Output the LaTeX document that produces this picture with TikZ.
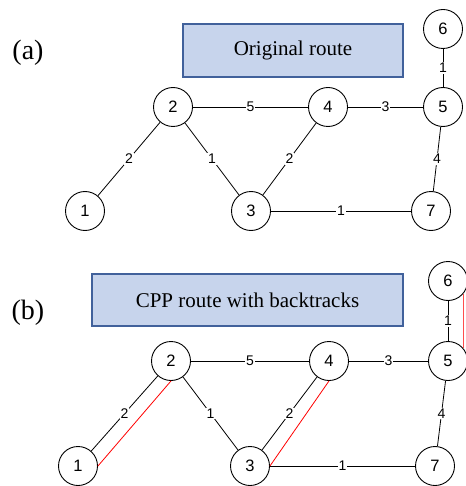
\documentclass[tikz,border=0pt]{standalone}
\usepackage{fontspec}
\setmainfont{Liberation Serif}
\newfontfamily\arialfont{Liberation Sans}

\definecolor{boxfill}{HTML}{C7D4EC}
\definecolor{boxedge}{HTML}{41619B}

\tikzset{
	vtx/.style={circle, draw, line width=0.9pt, minimum size=39pt, inner sep=0pt, font=\arialfont\fontsize{16.5}{16.5}\selectfont},
	wt/.style={fill=white, inner sep=1pt, font=\arialfont\fontsize{14}{14}\selectfont},
	titlebox/.style={draw=boxedge, fill=boxfill, line width=2pt, inner sep=0pt, font=\fontsize{21}{21}\selectfont},
	panel/.style={font=\fontsize{28}{28}\selectfont},
	backtrack/.style={red, line width=0.8pt}
}

\newcommand{\rtedge}[3]{
	\draw[line width=0.8pt] (#1) -- node[wt] {#3} (#2);
}
\newcommand{\rtedges}[1]{
	\rtedge{1#1}{2#1}{2}
	\rtedge{2#1}{3#1}{1}
	\rtedge{2#1}{4#1}{5}
	\rtedge{3#1}{4#1}{2}
	\rtedge{4#1}{5#1}{3}
	\rtedge{5#1}{6#1}{1}
	\rtedge{5#1}{7#1}{4}
	\rtedge{3#1}{7#1}{1}
}

\begin{document}
\begin{tikzpicture}[x=1pt, y=-1pt]
\useasboundingbox (0,0) rectangle (465,486);

% (a)
\pgfmathsetmacro{\rtAtop}{29}
\pgfmathsetmacro{\rtAmid}{107}
\pgfmathsetmacro{\rtAlow}{211}

\node[panel] (pa) at (28,53) {(a)};
\node[titlebox, minimum width=220pt, minimum height=53pt] (ta) at (293,50.5) {Original route};

\node[vtx] (6a) at (443,\rtAtop) {6};
\node[vtx] (2a) at (173,\rtAmid) {2};
\node[vtx] (4a) at (328,\rtAmid) {4};
\node[vtx] (5a) at (443,\rtAmid) {5};
\node[vtx] (1a) at (85,\rtAlow) {1};
\node[vtx] (3a) at (251,\rtAlow) {3};
\node[vtx] (7a) at (431,\rtAlow) {7};
\rtedges{a}

% (b)
\pgfmathsetmacro{\rtBtop}{281}
\pgfmathsetmacro{\rtBmid}{361}
\pgfmathsetmacro{\rtBlow}{466}

\node[panel] (pb) at (28,313) {(b)};
\node[titlebox, minimum width=311pt, minimum height=52pt] (tb) at (247.5,300) {CPP route with backtracks};

\node[vtx] (6b) at (448,\rtBtop) {6};
\node[vtx] (2b) at (171,\rtBmid) {2};
\node[vtx] (4b) at (329,\rtBmid) {4};
\node[vtx] (5b) at (448,\rtBmid) {5};
\node[vtx] (1b) at (78,\rtBlow) {1};
\node[vtx] (3b) at (250,\rtBlow) {3};
\node[vtx] (7b) at (435,\rtBlow) {7};
\rtedges{b}

\draw[backtrack] (1b.east) -- (2b.south);
\draw[backtrack] (3b.east) -- (4b.south);
\draw[backtrack, red!70, line width=1.2pt] (6b.-40) -- (5b.40);
\end{tikzpicture}
\end{document}
